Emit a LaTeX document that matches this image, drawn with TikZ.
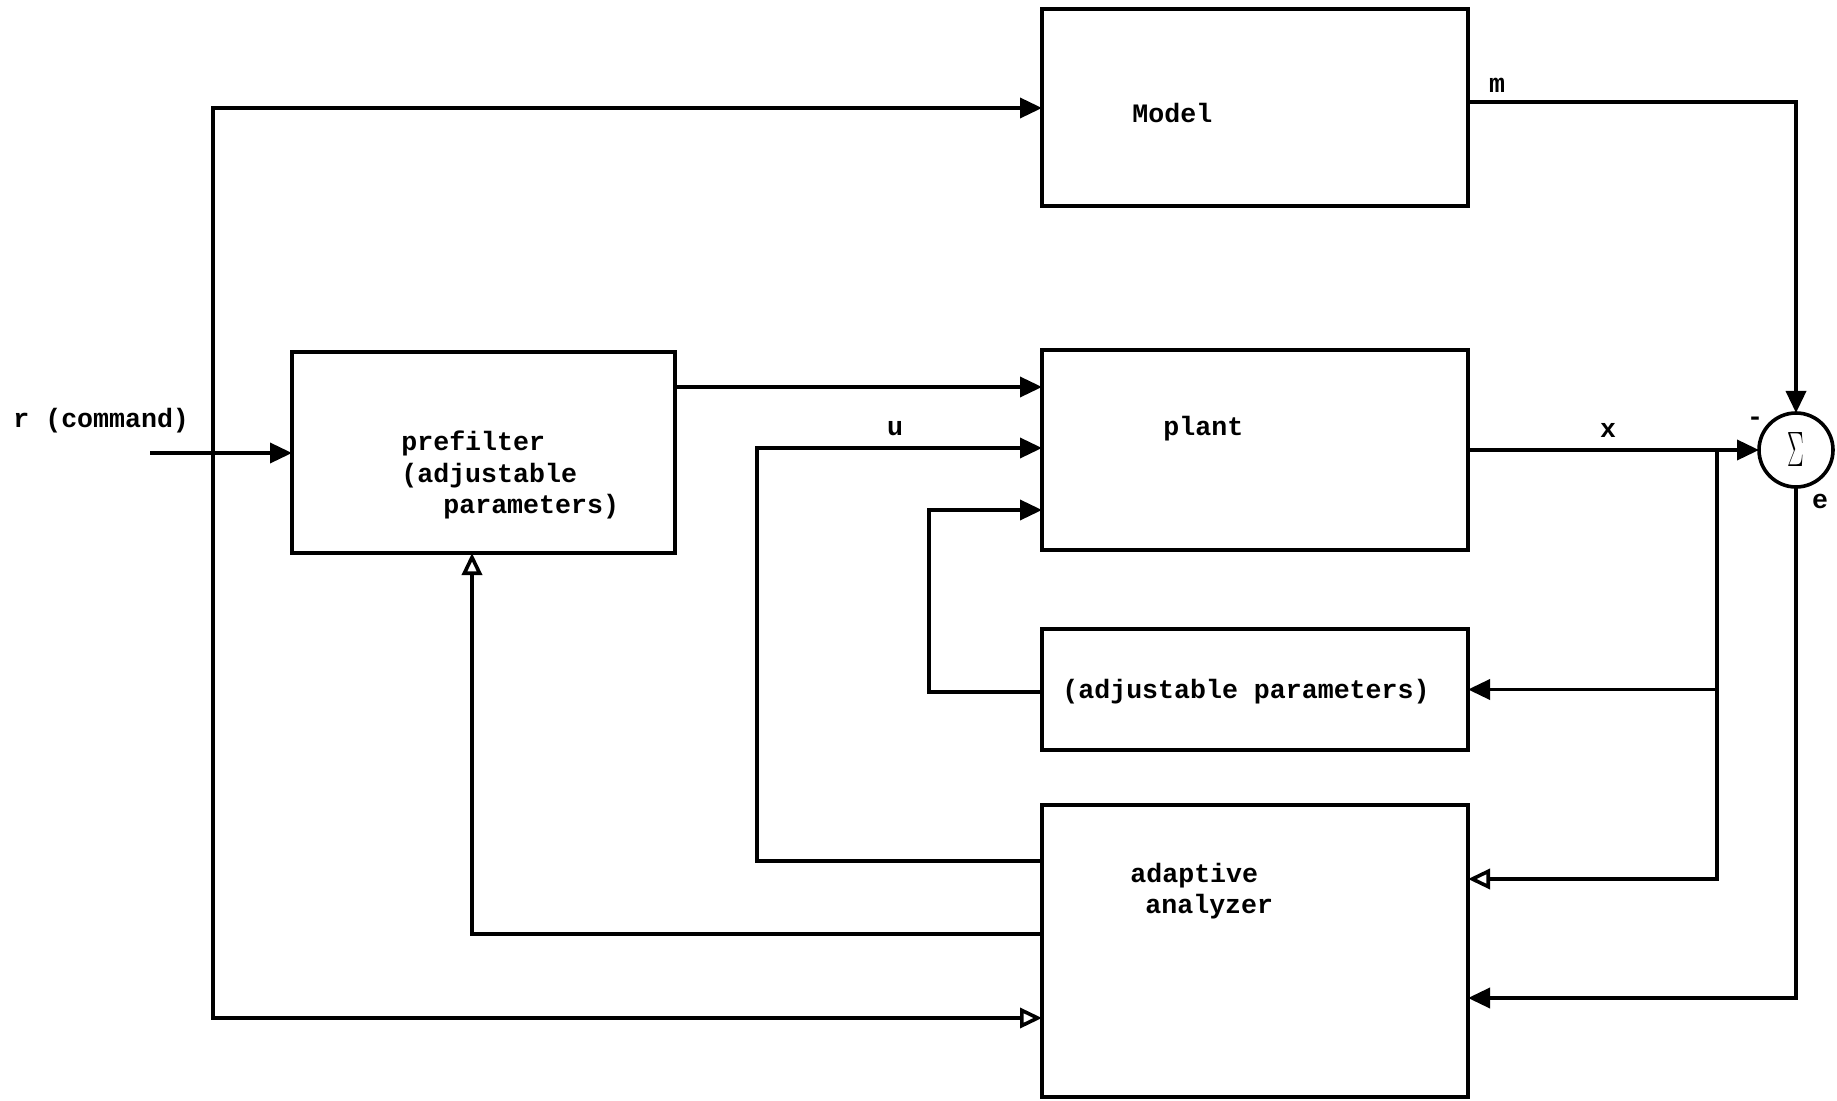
\documentclass[tikz,border=0pt]{standalone}
\usepackage{fontspec}
\setmonofont{Liberation Mono}
\usetikzlibrary{arrows.meta}
\begin{document}
\begin{tikzpicture}[x=0.5pt,y=-0.5pt,
  box/.style={draw,line width=2pt,inner sep=0pt,outer sep=0pt,anchor=north west},
  conn/.style={line width=1.8pt,line join=miter,line cap=rect},
  arr/.style={conn,-{Triangle[length=11pt,width=10pt]}},
  arro/.style={conn,-{Triangle[open,length=11pt,width=10pt,fill=white]}},
  lbl/.style={font=\ttfamily\bfseries\fontsize{13.3}{16}\selectfont,inner sep=0pt,anchor=west,text height=1.2ex,text depth=0pt},
  lblc/.style={lbl,anchor=center}]
\useasboundingbox (0,0) rectangle (1837,1101);
\fill[white] (0,0) rectangle (1837,1101);
% boxes
\node[box,minimum width=213pt,minimum height=98.5pt] (model) at (1042,9) {};
\node[box,minimum width=213pt,minimum height=100pt] (plant) at (1042,350) {};
\node[box,minimum width=213pt,minimum height=60.5pt] (adjp) at (1042,629) {};
\node[box,minimum width=213pt,minimum height=146pt] (anlz) at (1042,805) {};
\node[box,minimum width=191.5pt,minimum height=100.5pt] (pref) at (292,352) {};
\node[draw,circle,line width=1.8pt,minimum size=37pt,inner sep=0pt,outer sep=0pt] (sum) at (1796,450)
  {\fontsize{26}{26}\selectfont\scalebox{0.5}[1]{$\Sigma$}};
% texts
\node[lbl] (tmodel) at (1132,117) {Model};
\node[lbl] (tplant) at (1163,430) {plant};
\node[lblc] (tadjp) at (1246,693) {(adjustable parameters)};
\node[lbl] (tan1) at (1130,877) {adaptive};
\node[lbl] (tan2) at (1145,908) {analyzer};
\node[lbl] (tpf1) at (401,445) {prefilter};
\node[lbl] (tpf2) at (401,477) {(adjustable};
\node[lbl] (tpf3) at (443,508) {parameters)};
\node[lbl] (tr) at (13,422) {r (command)};
\node[lblc] (tm) at (1497,87) {m};
\node[lblc] (tx) at (1608,432) {x};
\node[lblc] (tu) at (895,430) {u};
\node[lblc] (te) at (1820,503) {e};
\node[lblc] (tminus) at (1755,420) {-};
% helper coordinates
\coordinate (rin) at (152,453);
\coordinate (jt) at (213,108);
\coordinate (jb) at (213,1018);
\coordinate (ya) at (0,387);
\coordinate (u1) at (757,861);
\coordinate (u2) at (757,448);
\coordinate (a2) at (929,510);
\coordinate (b1) at (472,934);
\coordinate (ym) at (0,102);
\coordinate (br) at (1717,450);
\coordinate (br2) at (1717,879);
\coordinate (e1) at (1796,998);
% connectors
\draw[arr] (rin) -- (rin -| pref.west);
\draw[conn] (jt) -- (jb);
\draw[arr] (jt) -- (jt -| model.west);
\draw[arro] (jb) -- (jb -| anlz.west);
\draw[arr] (pref.east |- ya) -- (plant.west |- ya);
\draw[arr] (anlz.west |- u1) -- (u1) -- (u2) -- (plant.west |- u2);
\draw[arr] (adjp.west |- 0,692) -| (a2) -- (plant.west |- a2);
\draw[arro] (anlz.west |- b1) -| (pref.south -| b1);
\draw[arr] (model.east |- ym) -| (sum.north);
\draw[arr] (plant.east |- sum.west) -- (sum.west);
\draw[conn] (br) -- (br2);
\draw[arr] (br |- adjp.east) -- (adjp.east);
\draw[arro] (br2) -- (br2 -| anlz.east);
\draw[arr] (sum.south) -- (e1) -- (e1 -| anlz.east);
\end{tikzpicture}
\end{document}
